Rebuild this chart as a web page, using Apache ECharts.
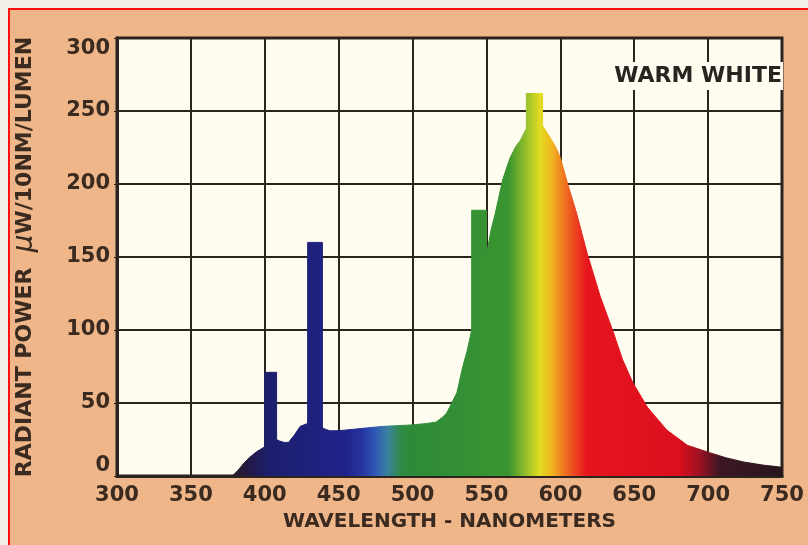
<!DOCTYPE html>
<html>
<head>
<meta charset="utf-8">
<title>Warm White spectrum</title>
<script src="https://cdn.jsdelivr.net/npm/echarts@6/dist/echarts.min.js"></script>
<style>
  body { margin: 0; background: #f2ede5; overflow: hidden; }
  .frame {
    position: absolute; left: 8px; top: 8px;
    width: 830px; height: 570px;
    border-left: 2px solid #ff1010; border-top: 2px solid #ff1010;
    background: #efb68a;
  }
  #chart { position: absolute; left: 0; top: 0; width: 808px; height: 545px; }
</style>
</head>
<body>
<div class="frame"></div>
<div id="chart"></div>
<script>
// wavelength (nm) and radiant power
// repeated wavelengths make the vertical edges of the mercury lines
const wavelength = [378, 382, 386, 390, 395, 400, 400, 408, 408, 410, 413, 416, 420, 424, 429, 429, 439, 439, 441, 444,
  450, 460, 470, 480, 490, 500, 510, 516, 520, 523, 525, 530, 534, 537, 540, 540, 550, 550, 553, 556,
  561, 566, 570, 573, 577, 577, 588, 588, 593, 597, 600, 605, 611, 618, 627, 636, 642, 649, 659, 672,
  686, 701, 712, 724, 737, 750];
const power = [0, 4, 9, 13, 17, 20, 71, 71, 25, 24, 23, 23, 28, 34, 36, 160, 160, 33, 32, 31,
  31, 32, 33, 34, 34.5, 35, 36, 37, 40, 43, 47, 57, 75, 86, 100, 182, 182, 151, 168, 180,
  203, 218, 226, 230, 238, 262, 262, 240, 232, 225, 218, 200, 180, 153, 123, 98, 80, 64, 47, 31.5,
  21, 16, 12.5, 9.6, 7.5, 6];
const xTicks = [300, 350, 400, 450, 500, 550, 600, 650, 700, 750];
const yTicks = [0, 50, 100, 150, 200, 250, 300];
const label = "WARM WHITE";

// colour of the spectrum by wavelength
const spectrum = [
  [378, "#2b1a22"], [392, "#201a4e"], [402, "#1d1e6c"], [455, "#20248a"], [466, "#2535a0"],
  [474, "#2f55b5"], [483, "#3a80a0"], [492, "#2f8a45"], [500, "#2d8a38"], [565, "#3a9530"],
  [576, "#8fbc2c"], [586, "#e2dc22"], [594, "#f0b820"], [601, "#f08020"], [609, "#ec4a20"],
  [618, "#e6161e"], [680, "#dc0f1e"], [694, "#9e1222"], [708, "#3c1624"], [750, "#28161e"]
];

const points = wavelength.map((w, i) => [w, power[i]]);
const wMin = wavelength[0];
const wMax = wavelength[wavelength.length - 1];
const stops = spectrum.map(([w, c]) => ({ offset: (w - wMin) / (wMax - wMin), color: c }));

const ink = "#3a2a1f";
const gridColor = "#2a231e";
const font = "DejaVu Sans";

let chart = echarts.init(document.getElementById("chart"));
let fill = new echarts.graphic.LinearGradient(0, 0, 1, 0, stops, false);

let option = {
  backgroundColor: "transparent",
  animation: false,
  title: {
    text: label,
    right: 25,
    top: 62,
    padding: [3, 1, 3, 6],
    backgroundColor: "#fffdf0",
    textStyle: { color: "#2a2420", fontSize: 22, fontWeight: "bold", fontFamily: font },
  },
  grid: {
    left: 117,
    right: 26,
    top: 38,
    bottom: 69,
    show: true,
    backgroundColor: "#fffdf0",
    borderColor: gridColor,
    borderWidth: 3,
  },
  xAxis: {
    type: "value",
    min: xTicks[0],
    max: xTicks[xTicks.length - 1],
    interval: xTicks[1] - xTicks[0],
    name: "WAVELENGTH - NANOMETERS",
    nameLocation: "middle",
    nameGap: 36,
    nameTextStyle: { color: ink, fontSize: 20, fontWeight: "bold", fontFamily: font },
    axisLine: { show: true, lineStyle: { color: gridColor, width: 3 } },
    axisTick: { show: false },
    axisLabel: { color: ink, fontSize: 21, fontWeight: "bold", fontFamily: font, margin: 9 },
    splitLine: { show: true, lineStyle: { color: gridColor, width: 2 } },
  },
  yAxis: {
    type: "value",
    min: yTicks[0],
    max: yTicks[yTicks.length - 1],
    interval: yTicks[1] - yTicks[0],
    name: "{a|RADIANT POWER  }{m|μ}{a|W/10NM/LUMEN}",
    nameLocation: "middle",
    nameGap: 78,
    nameTextStyle: {
      rich: {
        a: { color: ink, fontSize: 22, fontWeight: "bold", fontFamily: font },
        m: { color: ink, fontSize: 28, fontStyle: "italic", fontFamily: font },
      },
    },
    axisLine: { show: true, lineStyle: { color: gridColor, width: 3 } },
    axisTick: { show: true, length: 3, lineStyle: { color: gridColor } },
    axisLabel: {
      color: ink, fontSize: 21, fontWeight: "bold", fontFamily: font, margin: 7,
      verticalAlignMinLabel: "bottom",
      verticalAlignMaxLabel: "top",
    },
    splitLine: { show: true, lineStyle: { color: gridColor, width: 2 } },
  },
  series: [
    {
      type: "line",
      data: points,
      showSymbol: false,
      smooth: false,
      lineStyle: { color: fill, width: 1 },
      areaStyle: { color: fill, opacity: 1 },
      z: 3,
    },
  ],
};

chart.setOption(option);
</script>
</body>
</html>
